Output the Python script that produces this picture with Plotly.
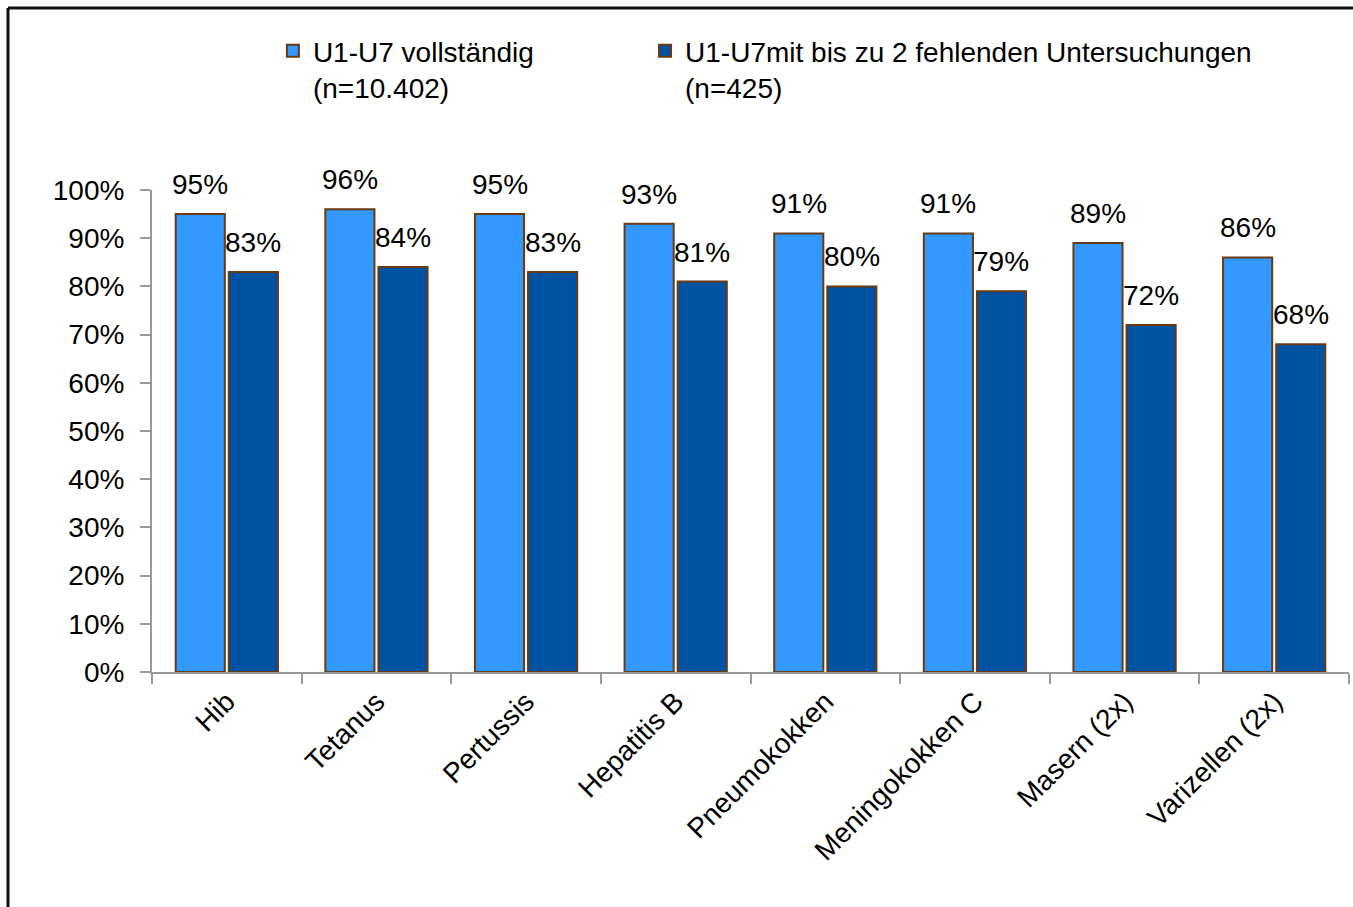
import plotly.graph_objects as go

categories = ["Hib", "Tetanus", "Pertussis", "Hepatitis B", "Pneumokokken",
              "Meningokokken C", "Masern (2x)", "Varizellen (2x)"]
vollstaendig = [95, 96, 95, 93, 91, 91, 89, 86]
bis_zu_2_fehlend = [83, 84, 83, 81, 80, 79, 72, 68]
y_ticks = [0, 10, 20, 30, 40, 50, 60, 70, 80, 90, 100]

FONT = "Liberation Sans Narrow, Arial Narrow, Liberation Sans, Arial, sans-serif"
OUTLINE = "#6B3A10"
SIZE = 28

fig = go.Figure()
fig.add_trace(go.Bar(
    x=categories, y=vollstaendig,
    name="U1-U7 vollständig<br>(n=10.402)",
    marker=dict(color="#3399FF", line=dict(color=OUTLINE, width=2)),
    legend="legend",
))
fig.add_trace(go.Bar(
    x=categories, y=bis_zu_2_fehlend,
    name="U1-U7mit bis zu 2 fehlenden Untersuchungen<br>(n=425)",
    marker=dict(color="#0052A3", line=dict(color=OUTLINE, width=2)),
    legend="legend2",
))

# value labels above each bar, offset to the bar's slot within its group
for values, dx in ((vollstaendig, -26.5), (bis_zu_2_fehlend, 26.5)):
    for cat, v in zip(categories, values):
        fig.add_annotation(x=cat, y=v, text=f"{v}%", showarrow=False,
                           xshift=dx, yshift=12, yanchor="bottom",
                           font=dict(size=SIZE, family=FONT, color="#000000"))

# frame: top and left edges
frame = dict(type="line", xref="paper", yref="paper",
             line=dict(color="#111111", width=3))
fig.add_shape(**frame, x0=-0.1203, x1=1.01, y0=1.3776, y1=1.3776)
fig.add_shape(**frame, x0=-0.1203, x1=-0.1203, y0=1.3776, y1=-0.6)

legend_common = dict(orientation="v", yanchor="top", xanchor="left", y=1.34,
                     valign="top", font=dict(size=SIZE, family=FONT, color="#000000"),
                     bgcolor="rgba(0,0,0,0)", itemwidth=30)

fig.update_layout(
    width=1353, height=907,
    margin=dict(l=152, r=4, t=190, b=235),
    paper_bgcolor="white", plot_bgcolor="white",
    font=dict(family=FONT, size=SIZE, color="#000000"),
    barmode="group", bargap=0.29, bargroupgap=0.075,
    showlegend=True,
    legend=dict(**legend_common, x=0.101),
    legend2=dict(**legend_common, x=0.4119),
    xaxis=dict(showline=True, linecolor="#999999", linewidth=2,
               ticks="outside", tickson="boundaries", ticklen=10, tickcolor="#999999",
               tickwidth=2, tickangle=-45, tickfont=dict(size=SIZE, family=FONT),
               showgrid=False),
    yaxis=dict(range=[0, 100], tickvals=y_ticks, ticktext=[f"{t}%" for t in y_ticks],
               showline=True, linecolor="#999999", linewidth=2,
               ticks="outside", ticklen=10, tickcolor="#999999", tickwidth=2,
               ticklabelstandoff=10,
               showgrid=False, zeroline=False, tickfont=dict(size=SIZE, family=FONT)),
)

fig.write_html("out.html")
